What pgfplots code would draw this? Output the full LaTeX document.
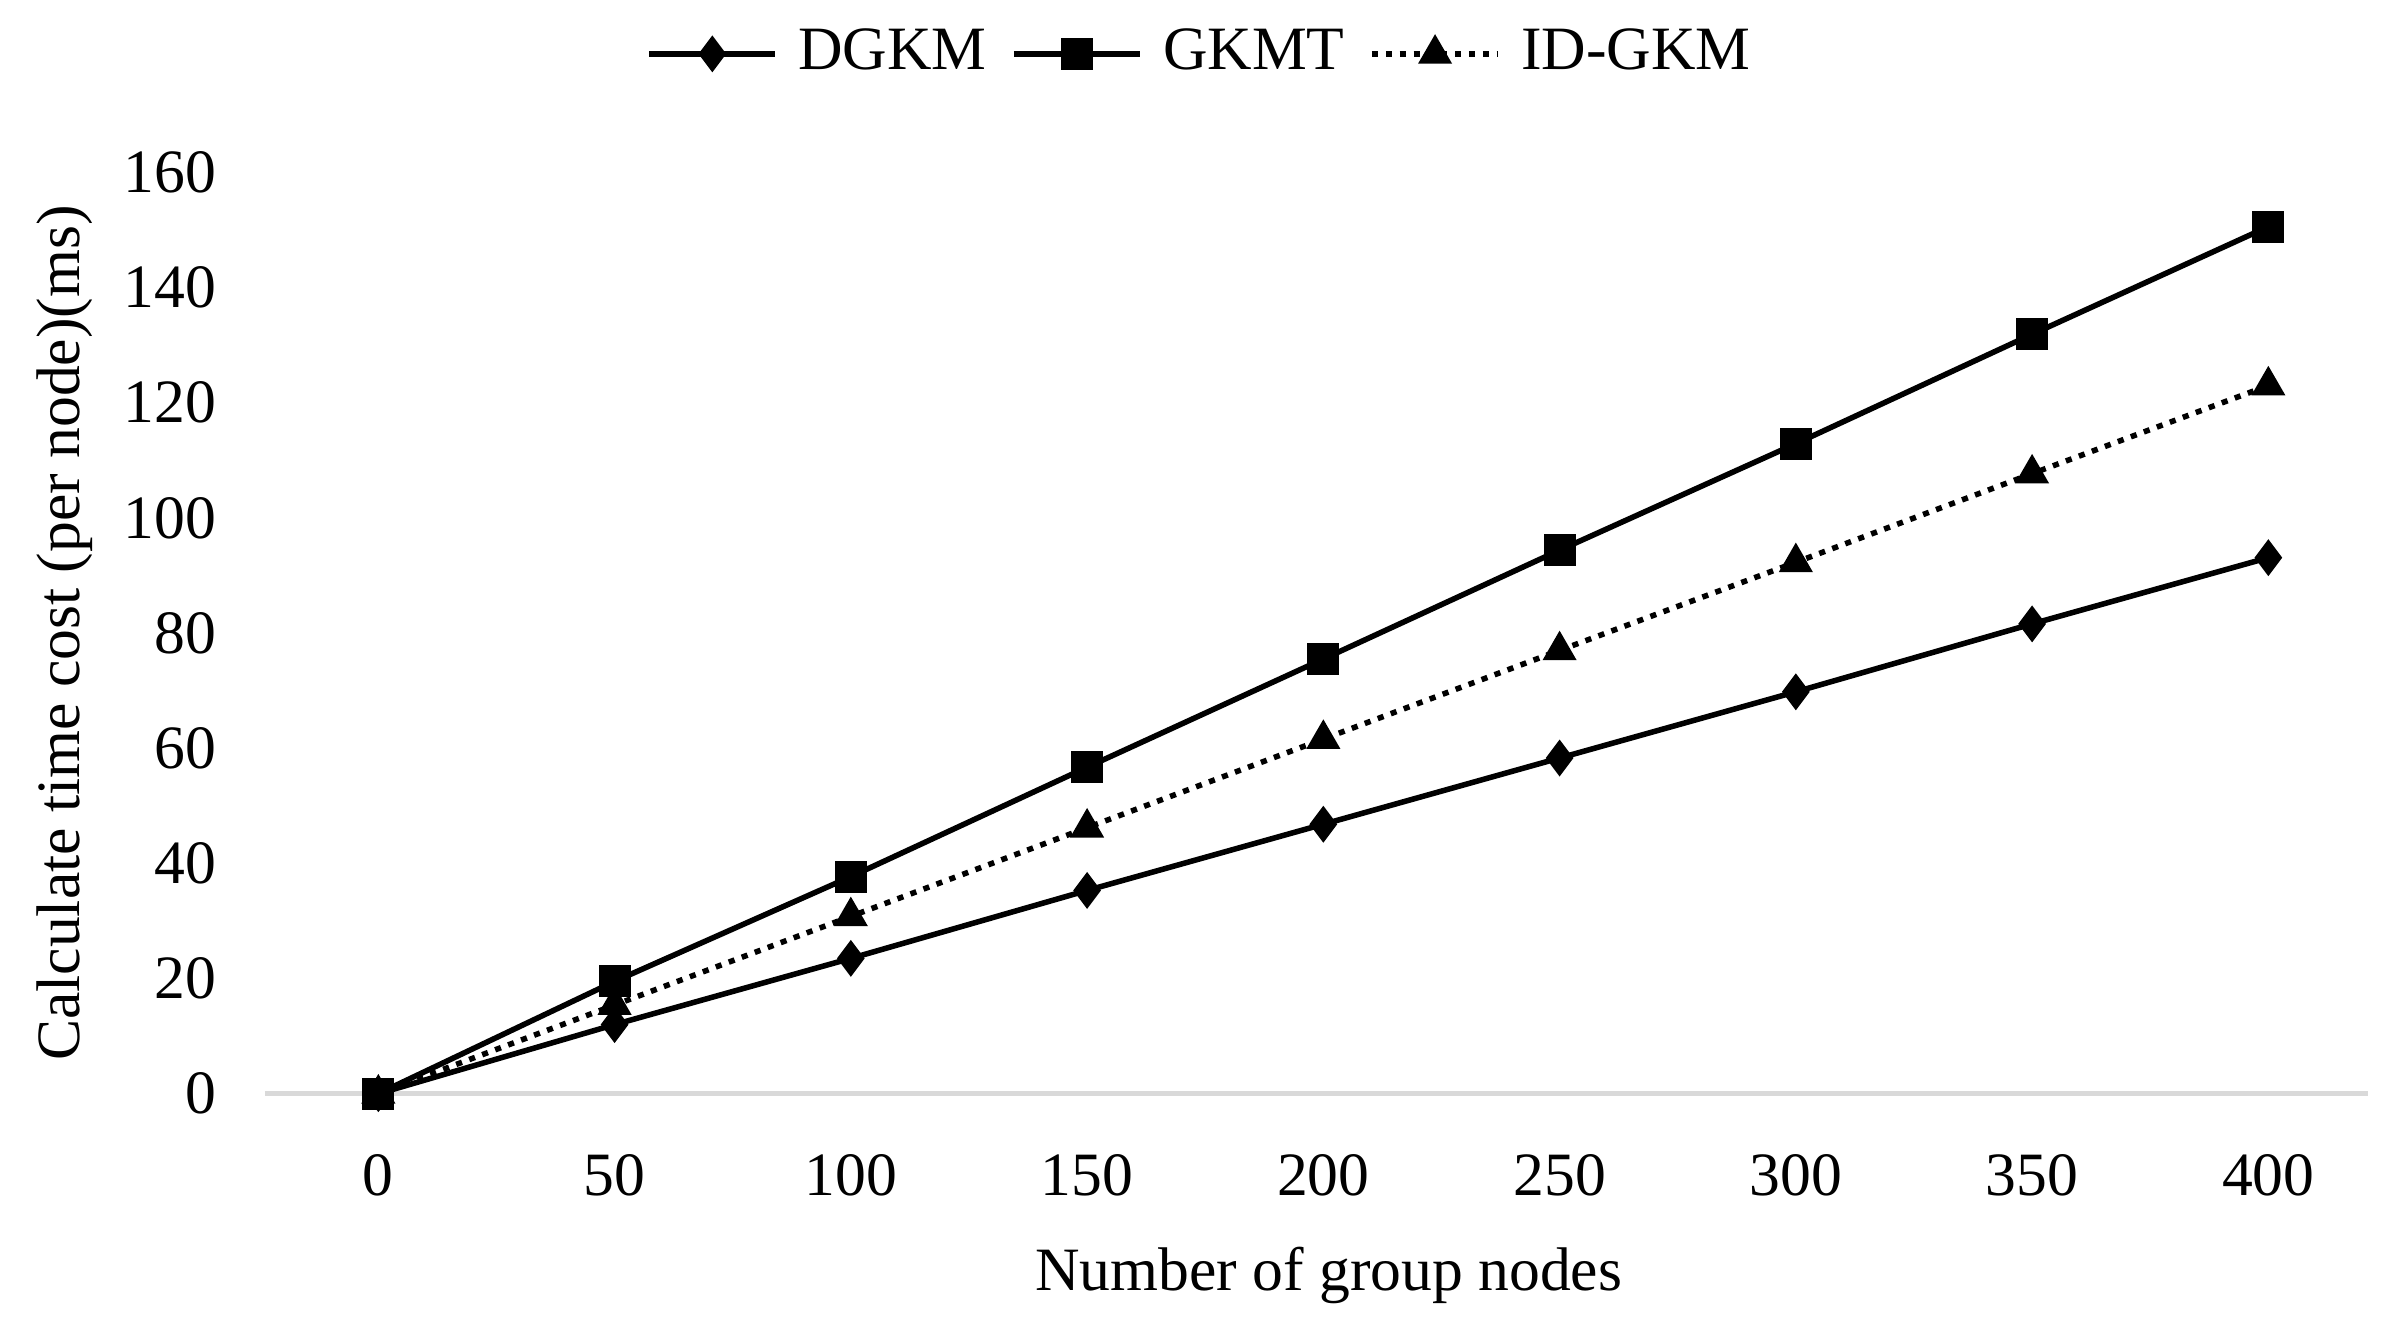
\documentclass[border=0pt]{standalone}
\usepackage{fontspec}
\setmainfont{Liberation Serif}
\usepackage{pgfplots}
\pgfplotsset{compat=1.18}

\begin{document}
\begin{tikzpicture}
\fontsize{20pt}{24pt}\selectfont
\begin{axis}[
    at={(0,0)}, anchor=south west,
    scale only axis,
    width=682.5pt, height=299pt,
    xmin=-24, xmax=421,
    ymin=0, ymax=160,
    xtick={0,50,...,400},
    ytick={0,20,...,160},
    /pgf/number format/assume math mode=true,
    tick label style={font=\fontsize{20pt}{24pt}\selectfont},
    label style={font=\fontsize{20pt}{24pt}\selectfont},
    major tick length=0pt,
    axis x line*=bottom,
    axis y line*=left,
    x axis line style={-, draw=black!15, line width=1.5pt},
    y axis line style={draw=none},
    xticklabel style={anchor=north, yshift=-13pt},
    yticklabel style={anchor=east, xshift=-9pt},
    xlabel={Number of group nodes},
    ylabel={Calculate time cost (per node)(ms)},
    xlabel style={at={(axis description cs:0.5059,-0.1973)}, anchor=center},
    ylabel style={at={(axis description cs:-0.0952,0.5)}, anchor=center},
    clip=false,
    legend columns=-1,
    legend style={draw=none, fill=none, at={(0.4454,1.1288)}, anchor=center,
        font=\fontsize{20pt}{24pt}\selectfont,
        /tikz/every odd column/.style={column sep=4.5pt},
        /tikz/every even column/.style={column sep=6pt}},
    legend image code/.code={
        \draw[mark repeat=2, mark phase=2, #1] plot coordinates {(0pt,0pt) (20.5pt,0pt) (41pt,0pt)};
    },
]
\addplot[black, line width=1.8pt, mark=diamond*, mark size=4.5pt, mark options={solid, fill=black}]
    coordinates {(0,0) (50,12.0) (100,23.5) (150,35.3) (200,46.8) (250,58.3) (300,69.8) (350,81.6) (400,93.1)};
\addlegendentry{DGKM}
\addplot[black, line width=1.8pt, mark=square*, mark size=4.3pt, mark options={solid, fill=black}]
    coordinates {(0,0) (50,19.5) (100,37.7) (150,56.7) (200,75.5) (250,94.4) (300,112.9) (350,131.9) (400,150.6)};
\addlegendentry{GKMT}
\addplot[black, line width=1.8pt, dash pattern=on 2pt off 2.5pt, mark=triangle*, mark size=4.6pt, mark options={solid, fill=black}]
    coordinates {(0,0) (50,15.4) (100,30.8) (150,46.2) (200,61.6) (250,77.0) (300,92.3) (350,107.7) (400,123.0)};
\addlegendentry{ID-GKM}
\end{axis}
\path (-86pt,-76.5pt) rectangle (694pt,355pt);
\end{tikzpicture}
\end{document}
